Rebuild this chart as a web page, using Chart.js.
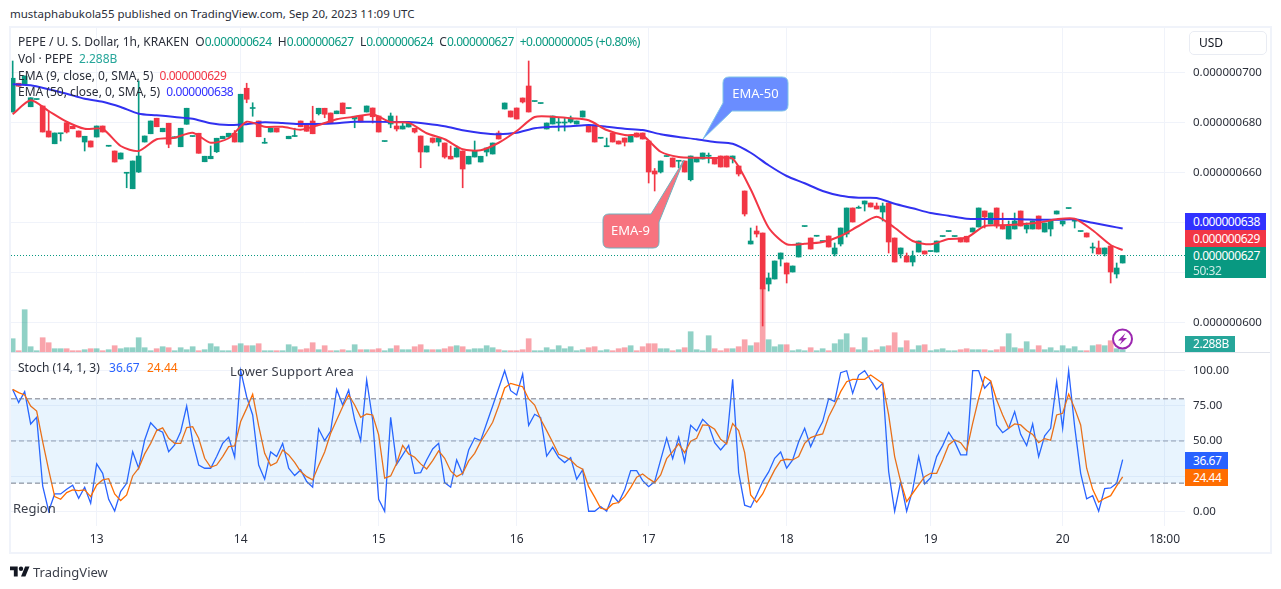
<!DOCTYPE html>
<html>
<head>
<meta charset="utf-8">
<title>PEPE / U. S. Dollar</title>
<script src="https://cdn.jsdelivr.net/npm/chart.js@4"></script>
<style>
  html, body { margin: 0; padding: 0; background: #fff; }
  body { width: 1281px; height: 589px; position: relative; overflow: hidden;
         font-family: "Noto Sans", sans-serif; color: #131722; }
  canvas { position: absolute; }
  .t { position: absolute; white-space: pre; font-size: 12px; line-height: 16px; color: #2a2e39; }
  .n { letter-spacing: -.45px; }
  .box { position: absolute; color: #fff; font-size: 12px; line-height: 17px; padding-left: 8px; box-sizing: border-box; letter-spacing: -.45px; }
  #frame { position: absolute; left: 9px; top: 26px; width: 1263px; height: 528px;
           border: 2px solid #f0f3fa; box-sizing: border-box; }
  #sep { position: absolute; left: 11px; top: 352px; width: 1259px; height: 1px; background: #e0e3eb; }
  #usd { position: absolute; left: 1189px; top: 31px; width: 78px; height: 24px; box-sizing: border-box;
         border: 1px solid #e9ecf3; border-radius: 5px; font-size: 12px; line-height: 22px; padding-left: 9px; }
  svg { position: absolute; left: 0; top: 0; pointer-events: none; }
</style>
</head>
<body>
<div class="t" style="left:10px;top:6px;font-size:11.5px">mustaphabukola55 published on TradingView.com, Sep 20, 2023 11:09 UTC</div>
<div id="frame"></div>
<canvas id="priceChart" width="1259" height="324" style="left:11px;top:28px"></canvas>
<canvas id="stochChart" width="1259" height="199" style="left:11px;top:353px"></canvas>
<div id="sep"></div>

<svg width="1281" height="589">
  <path d="M729 77 H782 Q788 77 788 83 V105 Q788 111 782 111 H732 L703 139 L723 103 V83 Q723 77 729 77 Z" fill="#6a8dff" stroke="#7fc4e8" stroke-width="1"/>
  <text x="755.5" y="98" fill="#fff" font-size="13" text-anchor="middle" font-family="Noto Sans">EMA-50</text>
  <path d="M609 214 H651 L684 160 L659 222 V242 Q659 248 653 248 H609 Q603 248 603 242 V220 Q603 214 609 214 Z" fill="#f7737f" stroke="#6fb0bd" stroke-width="1"/>
  <text x="630.5" y="235" fill="#fff" font-size="13" text-anchor="middle" font-family="Noto Sans">EMA-9</text>
  <circle cx="1122.5" cy="339" r="9.5" fill="#fff" fill-opacity=".6" stroke="#9c27b0" stroke-width="2"/>
  <path d="M1125.5 333 L1118 340.5 H1122 L1119.5 345 L1127 338 H1123 Z" fill="#9c27b0"/>
  <g transform="translate(10,566.5) scale(.55)" fill="#131722">
    <path d="M14 18H7V7H0V0h14v18zM28 18h-8L27.5 0h8L28 18z"/><circle cx="20" cy="4" r="4"/>
  </g>
</svg>

<div class="t" style="left:18px;top:34px"><span>PEPE / U. S. Dollar, 1h, KRAKEN  O</span><span class="n" style="color:#089981">0.000000624</span>  H<span class="n" style="color:#089981">0.000000627</span>  L<span class="n" style="color:#089981">0.000000624</span>  C<span class="n" style="color:#089981">0.000000627</span> <span class="n" style="color:#089981"> +0.000000005 (+0.80%)</span></div>
<div class="t" style="left:18px;top:51px">Vol · PEPE  <span style="color:#26a69a">2.288B</span></div>
<div class="t" style="left:18px;top:68px">EMA (9, close, 0, SMA, 5)  <span class="n" style="color:#f23645">0.000000629</span></div>
<div class="t" style="left:18px;top:84px">EMA (50, close, 0, SMA, 5)  <span class="n" style="color:#3131ff">0.000000638</span></div>
<div id="usd">USD</div>

<div class="box" style="left:1185px;top:213px;width:81px;height:17px;background:#3131ff">0.000000638</div>
<div class="box" style="left:1185px;top:230px;width:81px;height:17px;background:#f23645">0.000000629</div>
<div class="box" style="left:1185px;top:247px;width:81px;height:31px;background:#089981;line-height:15px;padding-top:1px">0.000000627<br><span style="opacity:.8">50:32</span></div>
<div class="box" style="left:1185px;top:336px;width:50px;height:16px;background:#26a69a;line-height:16px">2.288B</div>
<div class="box" style="left:1185px;top:452px;width:43px;height:17px;background:#2962ff">36.67</div>
<div class="box" style="left:1185px;top:469px;width:43px;height:17px;background:#ff6d00">24.44</div>

<div class="t" style="left:18px;top:360px">Stoch (14, 1, 3)  <span style="color:#2962ff;margin-left:3px">36.67</span>  <span style="color:#ff6d00;margin-left:1px">24.44</span></div>
<div class="t" style="left:230px;top:363px;font-size:13px;letter-spacing:.15px;color:#3b3f4a">Lower Support Area</div>
<div class="t" style="left:13px;top:500px;font-size:13px;color:#3b3f4a">Region</div>
<div class="t" style="left:33px;top:564px;font-size:13px;color:#3b3f4a">TradingView</div>

<script>
// prices are in units of 0.000000001 USD, volume in billions
const opens = [
  684.4,695.9,695.5,686.5,689.4,686.8,676.8,671.7,675.7,680.1,
  678.7,676.8,672.4,672.8,674.4,678.8,670.7,668.8,665.6,659.9,
  653.7,660.4,672.4,675.7,681.9,676.5,679.9,674.0,670.5,679.5,
  674.6,675.9,664.5,665.7,668.5,673.7,674.4,675.9,672.4,693.9,
  685.8,680.8,671.9,676.4,677.9,null,673.7,674.6,680.8,679.5,
  680.8,683.7,685.9,684.0,683.7,688.0,685.8,681.6,682.7,684.4,
  686.0,682.8,672.6,679.6,678.8,677.6,678.4,677.9,674.8,668.4,
  674.0,672.4,672.0,666.7,666.4,668.8,663.6,666.4,664.4,668.4,
  667.6,676.0,685.6,684.8,686.0,690.0,694.8,688.6,687.8,677.6,
  679.6,680.0,680.0,680.4,679.6,682.4,678.8,678.8,673.9,670.5,
  676.0,672.8,674.0,672.4,676.0,676.0,672.8,660.8,660.4,666.6,
  666.0,664.7,664.8,657.3,664.4,665.6,666.7,666.0,666.8,666.8,
  665.6,662.8,652.8,631.6,636.8,636.0,615.6,617.6,625.6,624.0,
  620.4,626.4,638.6,634.0,634.7,632.6,634.8,627.6,631.6,635.6,
  646.0,645.9,647.6,648.0,646.8,644.4,648.0,634.0,627.6,626.8,
  624.4,628.4,628.8,628.6,628.4,634.6,636.6,634.6,634.0,634.7,
  636.4,638.4,644.8,639.6,646.0,639.2,633.6,637.6,644.8,637.6,
  637.6,642.8,636.4,637.6,643.6,639.6,645.8,640.7,636.6,636.0,
  630.0,630.0,627.6,630.8,619.6,624.0
];
const closes = [
  697.9,694.7,698.8,690.1,689.5,676.4,674.4,676.0,675.9,676.4,
  677.7,674.4,674.7,670.4,678.8,676.4,670.8,664.4,668.0,660.0,
  664.8,666.8,674.8,680.8,678.5,677.9,671.5,674.5,677.9,685.9,
  674.7,667.9,666.7,666.7,673.9,674.7,675.9,672.4,691.5,689.5,
  685.9,674.5,672.0,677.9,676.4,null,674.7,674.7,678.5,676.7,
  675.7,685.9,683.5,679.9,684.8,683.7,685.9,682.7,680.4,686.8,
  682.5,676.4,672.7,682.8,677.6,678.8,680.1,676.4,668.4,670.8,
  672.3,674.0,666.4,665.6,670.0,661.6,666.7,668.8,666.7,670.0,
  672.0,673.6,688.0,682.4,681.6,688.4,684.4,688.7,687.9,680.0,
  682.8,680.1,680.1,682.0,680.8,684.8,676.4,672.4,674.0,670.6,
  672.4,671.6,672.3,674.8,674.4,673.6,660.4,659.6,664.8,666.7,
  662.4,664.8,660.4,666.8,666.0,668.0,666.8,663.6,662.4,662.4,
  666.8,659.6,643.6,632.8,635.6,613.6,618.0,624.8,628.0,619.6,
  622.8,632.0,638.7,629.6,634.8,632.7,630.4,630.0,638.0,646.0,
  640.4,646.0,648.8,646.4,645.6,646.8,632.4,624.4,630.0,624.4,
  626.8,632.8,627.6,628.7,632.8,634.7,636.7,634.7,632.4,632.4,
  638.0,646.0,642.4,644.0,638.8,637.6,638.8,640.8,638.8,639.2,
  640.8,637.6,640.0,640.8,644.8,640.8,645.9,640.8,636.7,634.4,
  630.1,627.6,630.0,620.4,622.0,627.0
];
const highs = [
  704.8,695.9,698.8,690.1,689.5,686.8,684.8,676.0,675.9,680.1,
  678.7,676.8,674.7,672.8,678.8,678.8,670.8,668.8,668.0,660.0,
  664.8,696.8,674.8,680.8,681.9,677.9,679.9,674.5,677.9,685.9,
  674.7,675.9,666.7,670.8,673.9,674.7,675.9,677.0,691.5,695.9,
  688.1,680.8,673.9,677.9,677.9,null,674.7,677.9,680.8,679.5,
  686.7,685.9,685.9,684.0,684.8,688.0,685.9,682.7,682.7,686.8,
  686.0,682.8,672.7,684.0,682.8,680.1,680.1,677.9,674.8,670.8,
  674.0,674.0,672.0,670.8,670.8,668.8,666.7,672.8,666.7,670.0,
  672.0,676.8,688.0,684.8,686.0,690.0,704.8,688.7,687.9,680.0,
  682.8,682.1,682.1,682.8,680.8,684.8,678.8,678.8,674.0,674.0,
  676.0,672.8,674.0,674.8,676.0,676.0,672.8,661.8,664.8,666.7,
  666.0,664.8,664.8,666.8,666.0,668.0,668.0,666.0,666.8,666.8,
  666.8,662.8,652.8,638.0,638.8,636.0,620.0,624.8,628.0,624.0,
  622.8,632.0,638.7,634.0,634.8,632.7,634.8,632.0,638.0,646.0,
  646.0,646.8,648.8,648.0,648.0,648.0,648.0,634.0,630.0,628.0,
  628.8,632.8,628.8,628.7,632.8,634.7,636.7,634.7,634.0,634.7,
  638.0,646.0,644.8,644.0,646.0,644.0,640.8,644.0,644.8,640.0,
  640.8,642.8,640.0,640.8,644.8,640.8,645.9,640.8,636.7,636.0,
  632.0,632.8,630.0,630.8,624.0,627.0
];
const lows = [
  684.4,694.7,695.5,686.5,689.4,676.4,674.4,671.7,672.8,676.0,
  677.7,674.4,668.8,670.4,674.4,676.4,670.7,664.4,665.6,654.1,
  653.7,660.2,672.4,675.7,678.5,676.5,670.1,674.0,670.5,679.5,
  674.6,667.9,664.5,665.7,668.2,673.7,674.4,672.4,672.4,688.1,
  682.7,674.5,671.9,676.4,676.4,null,673.7,674.6,678.5,676.7,
  675.7,683.2,682.1,679.9,683.7,683.7,685.8,678.1,680.4,684.4,
  680.0,676.4,672.6,678.1,676.8,677.6,678.4,676.0,662.1,668.4,
  672.0,670.8,665.9,665.6,666.4,654.1,663.6,666.4,664.4,666.8,
  667.6,673.6,685.6,682.4,681.6,688.0,684.4,688.6,687.8,677.6,
  679.6,676.8,676.8,680.0,679.6,682.4,676.4,672.4,673.9,670.5,
  672.4,671.6,670.8,672.4,674.4,673.6,656.0,652.8,660.0,666.6,
  662.4,662.1,660.4,656.8,664.4,665.6,664.0,663.6,662.4,662.4,
  664.0,658.8,642.8,631.6,634.4,598.8,612.8,617.6,622.8,616.0,
  620.4,626.4,638.6,629.6,634.7,632.6,630.4,626.8,630.8,634.4,
  640.4,645.9,644.8,646.4,645.6,640.8,628.0,624.4,626.0,624.4,
  622.8,628.4,627.6,628.6,628.4,634.6,636.6,634.6,632.4,632.4,
  636.4,638.4,638.0,639.6,638.0,637.6,633.6,637.6,638.8,636.0,
  637.6,637.6,636.4,634.8,643.6,638.8,645.8,638.0,636.6,634.4,
  628.0,627.6,626.8,616.0,618.0,624.0
];
const volumes = [
  13.3,1.3,42.3,5.3,1.3,14.3,9.3,3.3,3.3,3.3,
  1.3,1.3,2.3,3.3,3.3,1.3,2.3,6.3,3.3,4.3,
  4.3,14.3,4.3,1.3,3.3,5.3,4.3,1.3,4.3,2.3,
  5.3,1.3,2.3,8.3,5.3,1.3,1.3,6.3,8.3,6.3,
  6.3,8.3,1.3,1.3,1.3,1.3,7.3,5.3,2.3,3.3,
  9.3,2.3,6.3,1.3,1.3,2.3,1.3,7.3,2.3,2.3,
  2.3,3.3,1.3,3.3,6.3,2.3,2.3,5.3,7.3,2.3,
  2.3,2.3,3.3,5.3,6.3,5.3,2.3,3.3,3.3,6.3,
  4.3,2.3,1.3,1.3,1.3,2.3,13.3,1.3,1.3,4.3,
  2.3,6.3,3.3,5.3,1.3,2.3,4.3,5.3,1.3,2.3,
  1.3,3.3,4.3,6.3,1.3,5.3,8.3,8.3,3.3,3.3,
  1.3,2.3,4.3,20.3,2.3,1.3,16.3,3.3,1.3,3.3,
  3.3,5.3,12.3,6.3,9.3,64,12.3,5.3,7.3,7.3,
  1.3,2.3,1.3,4.3,1.3,3.3,1.3,8.3,12.3,18.3,
  4.3,2.3,14.3,1.3,2.3,5.3,6.3,19.3,4.3,11.3,
  2.3,6.3,7.3,1.3,2.3,3.3,1.3,1.3,2.3,3.3,
  2.3,2.3,2.3,1.3,2.3,5.3,18.3,4.3,3.3,10.3,
  2.3,6.3,2.3,4.3,1.3,6.3,3.3,5.3,1.3,1.3,
  6.3,7.3,6.3,11.3,3.3,2.288
];
// EMA readings, taken every third bar
const emaBars = [
  0,3,6,9,12,15,18,21,24,27,30,33,36,39,42,45,48,51,54,
  57,60,63,66,69,72,75,78,81,84,87,90,93,96,99,102,105,108,111,
  114,117,120,123,126,129,132,135,138,141,144,147,150,153,
  156,159,162,165,168,171,174,177,180,183,185
];
const ema9 = [
  683.5,689.1,684.8,680.5,677.7,677.6,670.8,668.8,673.5,674.1,676.1,672.1,673.9,680.5,678.5,678.5,677.3,679.2,681.5,
  682.5,683.5,680.4,680.1,675.9,673.5,669.5,669.1,672.1,676.8,682.4,682.5,681.9,681.1,677.2,675.2,674.9,668.5,666.4,
  666.1,666.0,665.7,653.5,638.1,631.5,631.7,632.4,634.8,638.8,642.5,638.1,632.8,631.5,
  633.6,634.1,638.8,639.1,639.5,640.1,641.5,641.7,637.1,631.2,629.2
];
const ema50 = [
  695.5,695.1,693.5,691.7,689.7,688.5,686.4,683.7,683.1,682.4,681.7,679.9,679.2,679.5,680.3,680.0,679.6,679.6,679.9,
  680.5,680.5,680.4,680.4,679.7,678.7,677.1,676.0,675.5,676.1,677.9,678.5,678.7,679.2,678.5,677.7,677.2,675.5,674.4,
  673.5,672.4,671.7,668.1,663.1,658.8,655.9,652.8,650.9,650.1,650.0,647.7,645.9,644.0,
  642.9,641.7,641.6,641.6,641.5,641.3,641.3,641.5,640.1,638.7,637.8
];
const stochK = [
  86.7,77.3,85.1,62.1,66.8,18.0,0,12.3,12.3,15.6,
  18.5,9.2,17.1,5.7,33.7,27.0,8.5,0.2,14.0,19.9,
  42.4,30.6,50.7,63.0,58.3,56.2,42.4,47.2,56.6,74.9,
  49.5,32.9,30.6,30.6,38.9,48.3,52.6,38.4,100,81.5,
  68.5,32.9,22.8,42.2,38.9,48.3,30.6,25.4,29.4,21.1,
  17.1,58.5,50.2,57.1,86.7,75.6,86.3,64.9,50.2,93.4,
  64.9,8.5,0,66.8,33.4,40.1,46.9,27.0,27.5,36.5,
  44.3,48.3,20.4,17.1,36.5,26.5,43.6,52.1,50.2,62.6,
  74.9,87.5,100,85.8,82.7,97.6,61.1,69.0,66.6,39.3,
  45.5,38.2,34.6,38.2,22.8,29.4,0,0,3.3,0,
  11.4,6.2,15.2,28.9,28.9,21.8,17.5,21.1,36.5,52.1,
  37.4,52.6,35.1,61.1,57.1,65.4,61.1,48.8,43.6,48.8,
  93.9,27.5,4.3,2.8,11.6,21.1,28.0,37.7,42.2,30.6,
  36.5,49.5,59.0,46.0,55.5,63.8,80.1,78.0,98.6,100,
  83.9,96.9,100,93.4,86.7,91.0,28.2,0,21.1,0,
  15.2,38.9,19.4,23.9,38.9,46.7,56.2,49.5,40.1,40.1,
  100,100,87.5,92.2,61.4,55.9,59.0,70.9,54.7,46.7,
  62.1,38.9,53.6,59.0,92.2,59.0,100,60.2,27.0,8.8,
  11.1,0,16.1,16.6,19.9,36.67
];
const stochD = [
  86.7,84.4,82.7,74.9,71.3,49.5,29.4,10.4,8.5,13.3,
  15.2,14.7,15.2,10.4,18.7,22.3,23.2,12.3,7.6,11.6,
  25.1,30.6,40.8,48.3,57.4,59.3,51.9,48.3,48.3,59.5,
  60.2,51.9,37.7,31.3,32.9,38.9,46.0,46.5,63.8,73.2,
  83.2,60.7,41.2,32.5,34.6,43.6,40.1,34.8,28.2,24.6,
  22.3,32.5,42.2,55.5,64.9,74.4,82.7,75.6,66.8,69.2,
  68.5,54.3,23.5,25.1,34.1,46.9,40.8,38.4,33.7,30.1,
  36.0,42.9,37.7,28.7,24.6,27.0,35.8,41.2,49.5,56.2,
  63.3,74.9,87.7,91.0,89.8,88.6,79.9,75.6,65.4,57.4,
  49.1,40.5,38.9,36.5,32.2,29.9,17.5,10.0,2.1,1.2,
  5.2,6.2,10.4,16.8,24.2,26.5,23.2,20.4,25.8,37.4,
  42.4,47.9,41.7,49.8,51.9,61.4,61.1,58.3,51.2,47.9,
  62.3,57.4,41.7,11.6,6.4,12.3,21.1,29.4,36.0,37.0,
  36.5,38.9,48.3,52.4,54.0,55.0,67.3,75.6,85.1,92.2,
  93.9,93.9,93.9,96.9,93.9,91.0,68.5,38.9,21.1,6.9,
  12.8,18.7,24.6,27.0,27.0,36.5,47.2,50.7,48.8,43.1,
  62.6,80.3,95.7,92.7,79.2,68.5,59.0,62.1,61.4,57.4,
  54.7,48.8,51.7,50.5,68.5,69.7,83.4,73.2,61.4,30.6,
  15.6,6.6,9.2,11.1,18.0,24.44
];
const lastClose = 627;
const priceTicks = [600, 620, 640, 660, 680, 700];
const stochTicks = [0, 25, 50, 75, 100];
const timeBars = [14, 38, 61, 84, 106, 129, 153, 175, 192];
const timeLabels = ['13', '14', '15', '16', '17', '18', '19', '20', '18:00'];

const GREEN = '#089981', RED = '#f23645';
const GRID = '#f0f3fa';
const FONT = { family: 'Noto Sans', size: 11.5 };
const X_MIN = -0.278, X_MAX = 195.39;

Chart.defaults.animation = false;
Chart.defaults.responsive = false;

const isUp = i => closes[i] === null || closes[i] >= opens[i];
const bars = opens.map((_, i) => i);

// the label overhang would otherwise shrink the plot area
function noPadding(s) {
  s.paddingLeft = s.paddingRight = s.paddingTop = s.paddingBottom = 0;
}

function xAxis(showLabels) {
  return {
    type: 'linear', min: X_MIN, max: X_MAX, offset: false,
    border: { display: false },
    grid: { color: GRID, drawTicks: false, offset: false },
    afterBuildTicks: s => { s.ticks = timeBars.map(v => ({ value: v })); },
    afterFit: s => { noPadding(s); s.height = showLabels ? 26 : 0; },
    ticks: {
      display: showLabels, autoSkip: false, maxRotation: 0, padding: 6,
      color: '#2a2e39', font: { family: 'Noto Sans', size: 12 },
      callback: v => timeLabels[timeBars.indexOf(v)]
    }
  };
}

function yAxis(min, max, values, fmt) {
  return {
    position: 'right', min, max,
    border: { display: false },
    grid: { color: GRID, drawTicks: false },
    afterBuildTicks: s => { s.ticks = values.map(v => ({ value: v })); },
    afterFit: s => { noPadding(s); s.width = 85; },
    ticks: { padding: 8, color: '#2a2e39', font: FONT, callback: fmt }
  };
}

const quiet = {
  legend: { display: false },
  tooltip: { enabled: false }
};

new Chart(document.getElementById('priceChart'), {
  type: 'bar',
  data: {
    datasets: [
      {
        label: 'Vol', yAxisID: 'yVol', order: 6, grouped: false, barThickness: 5,
        data: bars.map(i => ({ x: i, y: volumes[i] })),
        backgroundColor: bars.map(i => isUp(i) ? 'rgba(8,153,129,.45)' : 'rgba(242,54,69,.45)')
      },
      {
        type: 'line', label: 'Last', order: 5, pointRadius: 0, borderWidth: 1,
        borderColor: GREEN, borderDash: [1, 2],
        data: [{ x: X_MIN, y: lastClose }, { x: X_MAX, y: lastClose }]
      },
      {
        label: 'Wick', order: 4, grouped: false, barThickness: 1,
        data: bars.map(i => ({ x: i, y: highs[i] === null ? null : [lows[i], highs[i]] })),
        backgroundColor: bars.map(i => isUp(i) ? GREEN : RED)
      },
      {
        label: 'Body', order: 3, grouped: false, barThickness: 5, minBarLength: 1,
        data: bars.map(i => ({ x: i, y: opens[i] === null ? null : [opens[i], closes[i]] })),
        backgroundColor: bars.map(i => isUp(i) ? GREEN : RED)
      },
      {
        type: 'line', label: 'EMA 50', order: 2, pointRadius: 0, borderWidth: 2, tension: 0.25,
        borderColor: '#3131f0',
        data: emaBars.map((b, k) => ({ x: b, y: ema50[k] }))
      },
      {
        type: 'line', label: 'EMA 9', order: 1, pointRadius: 0, borderWidth: 2, tension: 0.25,
        borderColor: RED,
        data: emaBars.map((b, k) => ({ x: b, y: ema9[k] }))
      }
    ]
  },
  options: {
    layout: { padding: 0 },
    plugins: quiet,
    scales: {
      x: xAxis(false),
      y: yAxis(588.4, 718, priceTicks, v => '0.000000' + v),
      yVol: { display: false, min: 0, max: 324 }
    }
  }
});

const flat = (v, color, dash) => ({
  pointRadius: 0, borderWidth: 1, borderColor: color, borderDash: dash,
  data: [{ x: X_MIN, y: v }, { x: X_MAX, y: v }]
});

new Chart(document.getElementById('stochChart'), {
  type: 'line',
  data: {
    datasets: [
      { label: 'Upper', ...flat(80, '#787b86', [5, 3]), fill: '+1', backgroundColor: 'rgba(33,150,243,.1)' },
      { label: 'Lower', ...flat(20, '#787b86', [5, 3]) },
      { label: 'Middle', ...flat(50, 'rgba(120,123,134,.7)', [5, 3]) },
      {
        label: '%D', pointRadius: 0, borderWidth: 1.3, borderColor: '#ff6d00',
        data: bars.map(i => ({ x: i, y: stochD[i] }))
      },
      {
        label: '%K', pointRadius: 0, borderWidth: 1.3, borderColor: '#2962ff',
        data: bars.map(i => ({ x: i, y: stochK[i] }))
      }
    ]
  },
  options: {
    layout: { padding: 0 },
    plugins: { ...quiet, filler: { propagate: false } },
    scales: {
      x: xAxis(true),
      y: yAxis(-10.5, 112.6, stochTicks, v => v.toFixed(2))
    }
  }
});
</script>
</body>
</html>
